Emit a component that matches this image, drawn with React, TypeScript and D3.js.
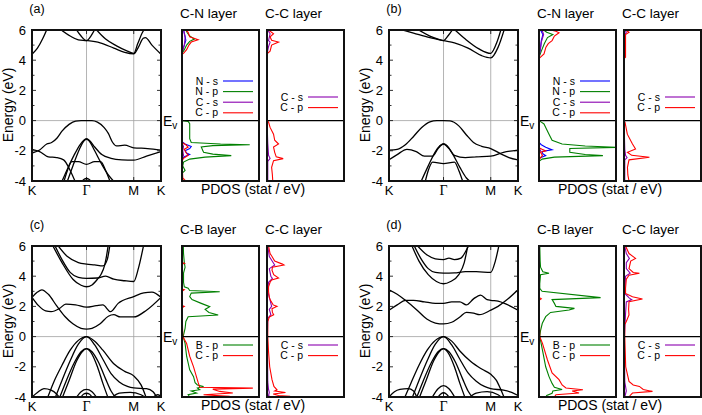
import * as d3 from "d3";

// k-path: K - Γ - M - K (hexagonal, |ΓK| = 1)
const KMAX = 2.366;
const kTicks = [0, 1, 1.866, 2.366];
const kLabels = ["K", "Γ", "M", "K"];
const eTickLabels = [-4, -2, 0, 2, 4, 6];

const NS = "#0000ff";
const NP = "#008000";
const CS = "#8a00b0";
const CP = "#ff0000";

// ---- band structures [k, E] ----
const bandsA = [
  [[0, -2.15], [0.14, -1.95], [0.27, -1.55], [0.36, -1.45], [0.46, -1.15], [0.55, -0.7], [0.68, -0.25], [0.8, -0.03], [0.9, 0], [1, 0], [1.1, 0], [1.2, -0.1], [1.32, -0.45], [1.4, -0.85], [1.48, -1.45], [1.55, -1.68], [1.7, -1.63], [1.866, -1.8], [2.12, -1.85], [2.366, -1.95]],
  [[0, -1.9], [0.14, -2.05], [0.3, -2.4], [0.45, -2.45], [0.58, -2.6], [0.7, -3.3], [0.8, -4.1]],
  [[0.54, -4.1], [0.65, -3.2], [0.77, -2.3], [0.88, -1.6], [0.95, -1.3], [1, -1.22], [1.05, -1.3], [1.15, -1.75], [1.28, -2.25], [1.45, -2.5], [1.65, -2.6], [1.866, -2.62], [2.1, -2.35], [2.366, -2.05]],
  [[0.64, -4.1], [0.75, -3.0], [0.87, -1.9], [0.95, -1.35], [1, -1.22], [1.05, -1.35], [1.15, -2.0], [1.28, -2.9], [1.4, -3.6], [1.52, -4.1]],
  [[0.58, -4.1], [0.65, -3.3], [0.73, -2.72], [0.85, -2.72], [1, -2.9], [1.15, -2.72], [1.26, -2.72], [1.35, -3.3], [1.44, -4.1]],
  [[0.9, -4.1], [0.95, -3.9], [1, -3.82], [1.05, -3.9], [1.1, -4.1]],
  [[0.94, -4.1], [1, -3.93], [1.06, -4.1]],
  [[0, 4.4], [0.1, 4.8], [0.2, 5.45], [0.28, 6.1]],
  [[0.5, 6.1], [0.7, 5.6], [0.85, 5.35], [1, 5.3], [1.25, 5.15], [1.5, 4.8], [1.7, 4.52], [1.866, 4.42], [1.95, 4.85], [2.04, 5.45], [2.08, 5.5], [2.2, 5.0], [2.366, 4.4]],
  [[0.8, 6.1], [0.9, 5.6], [1, 5.3], [1.08, 5.6], [1.16, 6.1]],
  [[1.16, 6.1], [1.35, 5.4], [1.55, 4.95], [1.75, 4.6], [1.866, 4.45], [1.94, 5.1], [2.02, 5.8], [2.07, 6.1]],
];

const bandsB = [
  [[0, -1.95], [0.15, -1.9], [0.3, -1.6], [0.45, -1.05], [0.6, -0.45], [0.75, -0.08], [0.88, 0], [1, 0], [1.12, -0.02], [1.28, -0.35], [1.42, -0.95], [1.55, -1.45], [1.7, -1.7], [1.866, -1.85], [2.05, -2.2], [2.2, -2.45], [2.366, -2.6]],
  [[0, -2.6], [0.15, -2.25], [0.33, -1.9], [0.5, -2.05], [0.65, -2.35], [0.8, -2.35], [0.9, -1.85], [1, -1.55], [1.1, -1.85], [1.2, -2.3], [1.4, -2.45], [1.6, -2.4], [1.866, -2.35], [2.1, -2.1], [2.366, -1.95]],
  [[0.58, -4.1], [0.72, -3.0], [0.86, -2.0], [0.95, -1.62], [1, -1.55], [1.05, -1.62], [1.15, -2.1], [1.3, -3.1], [1.42, -3.8], [1.52, -4.1]],
  [[0.66, -4.1], [0.72, -3.3], [0.8, -2.75], [1, -2.85], [1.2, -2.75], [1.28, -3.3], [1.36, -4.1]],
  [[0.96, -4.1], [1, -3.97], [1.04, -4.1]],
  [[0.15, 6.1], [0.45, 5.8], [0.75, 5.5], [1, 5.3], [1.2, 5.15], [1.45, 4.8], [1.7, 4.3], [1.866, 4.15], [2.0, 4.85], [2.12, 6.1]],
  [[0.5, 6.1], [0.75, 5.6], [0.9, 5.4], [1, 5.3], [1.08, 5.6], [1.18, 6.1]],
  [[1.18, 6.1], [1.4, 5.4], [1.65, 4.75], [1.866, 4.45], [1.98, 5.2], [2.06, 6.1]],
];

const bandsC = [
  [[0, 2.6], [0.1, 2.95], [0.18, 3.1], [0.3, 2.8], [0.45, 2.05], [0.6, 1.35], [0.75, 0.85], [0.9, 0.55], [1, 0.5], [1.1, 0.55], [1.25, 0.85], [1.4, 1.35], [1.5, 1.45], [1.62, 1.3], [1.866, 1.3], [2.1, 1.75], [2.366, 2.6]],
  [[0, 2.6], [0.12, 2.05], [0.25, 1.7], [0.35, 1.65], [0.5, 1.85], [0.62, 2.15], [0.8, 2.1], [1, 1.95], [1.18, 2.05], [1.3, 2.1], [1.44, 1.65], [1.58, 2.2], [1.866, 2.65], [2.05, 2.9], [2.2, 2.95], [2.366, 2.6]],
  [[0.37, 6.1], [0.55, 4.9], [0.75, 3.8], [0.9, 3.4], [1, 3.3], [1.1, 3.42], [1.2, 3.8], [1.27, 4.15], [1.33, 4.7], [1.36, 5.2], [1.4, 6.1]],
  [[0.41, 6.1], [0.55, 5.1], [0.7, 4.25], [0.85, 3.92], [1, 3.85], [1.2, 3.88], [1.35, 4.0], [1.5, 3.8], [1.7, 3.7], [1.866, 3.65], [1.95, 4.5], [2.05, 6.1]],
  [[0.46, 6.1], [0.65, 5.3], [0.85, 4.9], [1, 4.8], [1.15, 4.75], [1.3, 4.68], [1.38, 5.1], [1.43, 6.1]],
  [[0.28, -4.1], [0.4, -3.0], [0.55, -1.9], [0.7, -0.9], [0.85, -0.25], [1, 0], [1.15, -0.3], [1.3, -0.9], [1.5, -1.8], [1.7, -2.3], [1.866, -2.6], [2.0, -3.2], [2.1, -4.1]],
  [[0.42, -4.1], [0.55, -2.9], [0.7, -1.6], [0.85, -0.5], [1, 0], [1.15, -0.55], [1.3, -1.5], [1.45, -2.45], [1.6, -3.0], [1.75, -3.3], [1.866, -3.4], [2.1, -3.45], [2.22, -3.65], [2.3, -4.1]],
  [[0.5, -4.1], [0.62, -3.0], [0.78, -1.7], [0.9, -1.0], [1, -0.8], [1.1, -1.0], [1.22, -1.7], [1.35, -2.8], [1.45, -3.6], [1.55, -4.1]],
  [[0.55, -4.1], [0.68, -2.9], [0.82, -1.6], [0.92, -1.0], [1, -0.8], [1.08, -1.05], [1.2, -2.0], [1.3, -3.1], [1.4, -4.1]],
  [[0, -4.0], [0.1, -3.7], [0.22, -3.45], [0.35, -3.55], [0.45, -3.8], [0.52, -4.1]],
  [[0.8, -4.1], [0.9, -3.65], [1, -3.5], [1.1, -3.65], [1.2, -4.1]],
  [[0.88, -4.1], [0.95, -3.8], [1, -3.75], [1.05, -3.8], [1.12, -4.1]],
  [[1.45, -4.1], [1.6, -3.75], [1.8, -3.7], [2.0, -3.85], [2.1, -4.1]],
  [[2.2, -4.1], [2.3, -3.85], [2.366, -3.95]],
];

const bandsD = [
  [[0, 3.1], [0.15, 2.8], [0.3, 2.4], [0.5, 1.8], [0.7, 1.15], [0.85, 0.9], [1, 0.84], [1.15, 0.95], [1.3, 1.3], [1.42, 1.6], [1.55, 1.55], [1.66, 1.45], [1.866, 1.75], [2.0, 2.0], [2.15, 2.4], [2.366, 3.1]],
  [[0, 1.75], [0.15, 2.1], [0.3, 2.4], [0.45, 2.4], [0.65, 2.3], [0.85, 2.2], [1, 2.2], [1.15, 2.3], [1.3, 2.3], [1.42, 2.1], [1.55, 2.5], [1.68, 2.75], [1.8, 2.45], [1.866, 2.4], [2.0, 2.35], [2.15, 2.15], [2.366, 1.75]],
  [[0.41, 6.1], [0.55, 5.0], [0.72, 4.1], [0.87, 3.65], [1, 3.5], [1.13, 3.65], [1.28, 4.1], [1.38, 4.9], [1.45, 6.1]],
  [[0.45, 6.1], [0.58, 5.2], [0.72, 4.5], [0.85, 4.25], [1, 4.2], [1.2, 4.22], [1.4, 4.3], [1.6, 4.3], [1.866, 4.25], [1.95, 5.0], [2.02, 6.1]],
  [[0.5, 6.1], [0.7, 5.4], [0.85, 5.15], [1, 5.1], [1.1, 5.2], [1.2, 5.1], [1.32, 5.2], [1.4, 5.6], [1.47, 6.1]],
  [[0.28, -4.1], [0.4, -3.1], [0.55, -1.9], [0.7, -0.9], [0.85, -0.25], [1, 0], [1.15, -0.3], [1.3, -0.95], [1.5, -1.65], [1.7, -2.15], [1.866, -2.5], [1.97, -2.9], [2.05, -3.5], [2.12, -4.1]],
  [[0.42, -4.1], [0.55, -2.9], [0.7, -1.6], [0.85, -0.5], [1, 0], [1.15, -0.55], [1.3, -1.5], [1.45, -2.4], [1.6, -2.95], [1.75, -3.3], [1.866, -3.45], [2.1, -3.55], [2.25, -3.7], [2.366, -3.9]],
  [[0.5, -4.1], [0.62, -3.0], [0.78, -1.7], [0.9, -1.0], [1, -0.8], [1.1, -1.0], [1.22, -1.7], [1.35, -2.8], [1.45, -3.6], [1.55, -4.1]],
  [[0.55, -4.1], [0.68, -2.9], [0.82, -1.6], [0.92, -1.0], [1, -0.8], [1.08, -1.05], [1.2, -2.0], [1.3, -3.1], [1.4, -4.1]],
  [[0, -4.0], [0.1, -3.65], [0.2, -3.5], [0.35, -3.45], [0.45, -3.6], [0.52, -4.1]],
  [[0.78, -4.1], [0.9, -3.45], [1, -3.25], [1.1, -3.45], [1.22, -4.1]],
  [[0.88, -4.1], [0.95, -3.8], [1, -3.72], [1.05, -3.8], [1.12, -4.1]],
  [[1.45, -4.1], [1.6, -3.75], [1.8, -3.65], [2.0, -3.85], [2.1, -4.1]],
];

// ---- PDOS [E, states/eV] ----
const aCN_Ns = [[6, 0.02], [5.6, 0.04], [5.3, 0.05], [5.0, 0.03], [4.5, 0], [-1.4, 0], [-1.55, 0.04], [-1.72, 0.12], [-1.85, 0.1], [-1.99, 0.04], [-2.15, 0.06], [-2.25, 0.1], [-2.4, 0.03], [-2.55, 0], [-4, 0]];
const aCN_Np = [[6, 0.05], [5.8, 0.07], [5.6, 0.1], [5.4, 0.16], [5.25, 0.1], [5.0, 0.06], [4.7, 0.03], [4.45, 0], [0, 0], [-0.05, 0.08], [-0.2, 0.1], [-1.2, 0.1], [-1.45, 0.12], [-1.55, 0.5], [-1.6, 0.88], [-1.66, 0.4], [-1.75, 0.25], [-2.1, 0.28], [-2.22, 0.4], [-2.32, 0.64], [-2.42, 0.3], [-2.55, 0.1], [-2.75, 0.02], [-3.0, 0.01], [-3.3, 0.04], [-3.5, 0], [-3.9, 0], [-4, 0.03]];
const aCN_Cs = [[6, 0.02], [5.5, 0.04], [5.0, 0.03], [4.5, 0], [-1.5, 0], [-1.7, 0.02], [-2.0, 0.01], [-2.3, 0.02], [-2.5, 0], [-4, 0]];
const aCN_Cp = [[6, 0.05], [5.85, 0.08], [5.55, 0.1], [5.35, 0.21], [5.2, 0.12], [5.0, 0.09], [4.7, 0.06], [4.45, 0.02], [4.4, 0], [-1.45, 0], [-1.6, 0.05], [-1.75, 0.08], [-1.9, 0.03], [-2.1, 0.05], [-2.3, 0.08], [-2.5, 0.02], [-2.7, 0], [-3.8, 0.01], [-3.95, 0.04], [-4, 0.02]];
const aCC_Cs = [[6, 0.01], [5.75, 0.04], [5.3, 0.02], [5.2, 0.04], [4.9, 0.02], [4.42, 0], [0, 0], [-1.5, 0.01], [-2.3, 0.02], [-2.5, 0.04], [-2.7, 0.01], [-4, 0.01]];
const aCC_Cp = [[6, 0.02], [5.75, 0.085], [5.55, 0.04], [5.32, 0.06], [5.2, 0.15], [5.0, 0.06], [4.6, 0.04], [4.42, 0], [0, 0], [-0.1, 0.02], [-0.45, 0.04], [-0.9, 0.085], [-1.3, 0.1], [-1.55, 0.15], [-1.75, 0.085], [-2.1, 0.1], [-2.4, 0.12], [-2.52, 0.21], [-2.65, 0.085], [-3.1, 0.06], [-3.6, 0.07], [-4, 0.075]];

const bCN_Ns = [[6, 0.02], [5.7, 0.05], [5.3, 0.03], [4.8, 0.02], [4.2, 0], [-1.45, 0], [-1.6, 0.03], [-1.77, 0.087], [-1.94, 0.17], [-2.05, 0.04], [-2.2, 0.05], [-2.32, 0.087], [-2.5, 0], [-4, 0]];
const bCN_Np = [[6, 0.06], [5.85, 0.1], [5.7, 0.18], [5.5, 0.11], [5.1, 0.07], [4.6, 0.03], [4.2, 0], [0, 0], [-0.1, 0.03], [-0.22, 0.065], [-0.45, 0.087], [-0.9, 0.13], [-1.3, 0.17], [-1.55, 0.3], [-1.68, 0.6], [-1.77, 1.05], [-1.85, 0.4], [-2.1, 0.4], [-2.25, 0.6], [-2.32, 0.83], [-2.42, 0.2], [-2.55, 0.04], [-2.7, 0], [-4, 0]];
const bCN_Cs = [[6, 0.04], [5.7, 0.06], [5.2, 0.03], [4.5, 0.01], [4.2, 0], [-1.8, 0], [-2.0, 0.02], [-2.2, 0], [-4, 0]];
const bCN_Cp = [[6, 0.15], [5.92, 0.22], [5.82, 0.26], [5.6, 0.2], [5.3, 0.17], [5.1, 0.12], [4.86, 0.09], [4.42, 0.065], [4.2, 0.02], [4.1, 0], [-1.8, 0], [-1.9, 0.04], [-2.0, 0.087], [-2.1, 0.02], [-2.3, 0.045], [-2.45, 0.02], [-2.6, 0], [-4, 0]];
const bCC_Cs = [[6, 0.01], [5.85, 0.03], [5.7, 0.01], [4.1, 0], [0, 0], [-1.9, 0.01], [-2.3, 0.02], [-2.45, 0.04], [-2.6, 0.01], [-4, 0.01]];
const bCC_Cp = [[6, 0.02], [5.85, 0.065], [5.7, 0.02], [4.2, 0.02], [4.1, 0], [0, 0], [-0.1, 0.013], [-0.9, 0.043], [-1.55, 0.11], [-1.88, 0.15], [-2.1, 0.045], [-2.3, 0.1], [-2.43, 0.33], [-2.6, 0.065], [-3.1, 0.045], [-3.6, 0.05], [-4, 0.065]];

const cCB_Bp = [[6, 0.017], [5.5, 0.02], [4.9, 0.03], [4.6, 0.04], [4.2, 0.02], [3.6, 0.02], [3.3, 0.03], [3.2, 0.08], [3.05, 0.1], [2.97, 0.49], [2.88, 0.12], [2.65, 0.1], [2.45, 0.13], [2.2, 0.25], [1.98, 0.36], [1.8, 0.3], [1.6, 0.35], [1.43, 0.47], [1.32, 0.08], [1.0, 0.05], [0.55, 0.04], [0, 0.015], [-0.45, 0.04], [-1.3, 0.06], [-2.2, 0.1], [-2.65, 0.15], [-3.05, 0.17], [-3.2, 0.2], [-3.3, 0.28], [-3.4, 0.2], [-3.52, 0.23], [-3.6, 0.12], [-3.74, 0.19], [-3.85, 0.08], [-4, 0.1]];
const cCB_Cp = [[6, 0], [4.9, 0], [4.85, 0.03], [4.8, 0], [3.15, 0], [3.1, 0.03], [3.0, 0], [2.05, 0], [2.0, 0.03], [1.9, 0], [0, 0.01], [-0.45, 0.06], [-1.3, 0.1], [-2.0, 0.15], [-3.05, 0.21], [-3.35, 0.23], [-3.41, 0.92], [-3.48, 0.4], [-3.63, 0.49], [-3.74, 0.66], [-3.85, 0.28], [-3.96, 0.62], [-4, 0.3]];
const cCC_Cs = [[6, 0.01], [5.3, 0.03], [4.74, 0.1], [4.5, 0.03], [4.0, 0.05], [3.85, 0.07], [3.6, 0.02], [3.0, 0.01], [2.0, 0.06], [1.8, 0.03], [1.45, 0.05], [1.2, 0.01], [0, 0.005], [-3, 0.01], [-3.5, 0.02], [-3.7, 0.03], [-3.9, 0.02], [-4, 0.04]];
const cCC_Cp = [[6, 0.02], [5.5, 0.04], [5.3, 0.065], [5.0, 0.1], [4.8, 0.2], [4.74, 0.22], [4.6, 0.07], [4.4, 0.065], [4.1, 0.087], [3.88, 0.15], [3.75, 0.06], [3.6, 0.04], [3.3, 0.02], [3.0, 0.02], [2.6, 0.03], [2.4, 0.045], [2.1, 0.08], [2.0, 0.13], [1.85, 0.065], [1.6, 0.07], [1.45, 0.087], [1.3, 0.03], [1.0, 0.01], [0, 0.01], [-1.0, 0.02], [-2.0, 0.035], [-2.85, 0.065], [-3.3, 0.09], [-3.52, 0.13], [-3.6, 0.1], [-3.7, 0.24], [-3.8, 0.08], [-3.9, 0.15], [-3.96, 0.3], [-4, 0.2]];

const dCB_Bp = [[6, 0.01], [5.0, 0.015], [4.6, 0.02], [4.3, 0.05], [4.2, 0.13], [4.1, 0.02], [3.5, 0.01], [3.2, 0.01], [3.0, 0.04], [2.58, 0.8], [2.45, 0.17], [2.2, 0.2], [2.0, 0.22], [1.87, 0.46], [1.76, 0.39], [1.6, 0.15], [1.32, 0.087], [0.88, 0.043], [0.4, 0.02], [0, 0.01], [-0.9, 0.045], [-2.0, 0.087], [-2.65, 0.13], [-3.1, 0.17], [-3.35, 0.2], [-3.5, 0.3], [-3.6, 0.18], [-3.75, 0.17], [-3.9, 0.1], [-4, 0.09]];
const dCB_Cp = [[6, 0], [2.6, 0], [2.5, 0.03], [2.4, 0], [0, 0.01], [-0.45, 0.045], [-1.55, 0.11], [-2.4, 0.17], [-2.85, 0.26], [-3.2, 0.3], [-3.4, 0.35], [-3.52, 0.57], [-3.6, 0.43], [-3.74, 0.52], [-3.85, 0.22], [-4, 0.2]];
const dCC_Cs = [[6, 0.01], [5.5, 0.03], [5.18, 0.07], [4.9, 0.03], [4.5, 0.03], [4.2, 0.08], [4.0, 0.02], [2.86, 0.01], [2.55, 0.07], [2.45, 0.1], [2.3, 0.03], [1.5, 0.02], [0, 0.005], [-3, 0.01], [-3.6, 0.03], [-4, 0.01]];
const dCC_Cp = [[6, 0.02], [5.5, 0.065], [5.18, 0.15], [5.0, 0.087], [4.5, 0.065], [4.25, 0.12], [4.19, 0.2], [4.07, 0.065], [3.8, 0.03], [3.2, 0.02], [2.86, 0.02], [2.64, 0.11], [2.49, 0.24], [2.31, 0.065], [1.8, 0.06], [1.43, 0.065], [1.0, 0.03], [0.8, 0.01], [0, 0.01], [-2.0, 0.022], [-2.97, 0.065], [-3.2, 0.12], [-3.3, 0.2], [-3.5, 0.25], [-3.63, 0.37], [-3.74, 0.11], [-3.9, 0.08], [-4, 0.065]];

// ---- layout ----
const W = 702;
const H = 415;
const ROWS = [30, 246];
const COLS = [0, 357];
const PANEL_H = 151;
const BAND_X = [32, 161];
const PDOS_X = [[182, 259], [267, 344]];
const FONT = "'Liberation Sans', Arial, sans-serif";

const panels = [
  {
    tag: "(a)", col: 0, row: 0, bands: bandsA,
    left: { title: "C-N layer", legendY: 51, curves: [["N - s", NS, aCN_Ns], ["N - p", NP, aCN_Np], ["C - s", CS, aCN_Cs], ["C - p", CP, aCN_Cp]] },
    right: { title: "C-C layer", legendY: 67, curves: [["C - s", CS, aCC_Cs], ["C - p", CP, aCC_Cp]] },
  },
  {
    tag: "(b)", col: 1, row: 0, bands: bandsB,
    left: { title: "C-N layer", legendY: 51, curves: [["N - s", NS, bCN_Ns], ["N - p", NP, bCN_Np], ["C - s", CS, bCN_Cs], ["C - p", CP, bCN_Cp]] },
    right: { title: "C-C layer", legendY: 67, curves: [["C - s", CS, bCC_Cs], ["C - p", CP, bCC_Cp]] },
  },
  {
    tag: "(c)", col: 0, row: 1, bands: bandsC,
    left: { title: "C-B layer", legendY: 99, curves: [["B - p", NP, cCB_Bp], ["C - p", CP, cCB_Cp]] },
    right: { title: "C-C layer", legendY: 99, curves: [["C - s", CS, cCC_Cs], ["C - p", CP, cCC_Cp]] },
  },
  {
    tag: "(d)", col: 1, row: 1, bands: bandsD,
    left: { title: "C-B layer", legendY: 99, curves: [["B - p", NP, dCB_Bp], ["C - p", CP, dCB_Cp]] },
    right: { title: "C-C layer", legendY: 99, curves: [["C - s", CS, dCC_Cs], ["C - p", CP, dCC_Cp]] },
  },
];

function BandPlot({ ox, oy, bands, tag, id }) {
  const x = d3.scaleLinear().domain([0, KMAX]).range([ox + BAND_X[0], ox + BAND_X[1]]);
  const y = d3.scaleLinear().domain([-4, 6]).range([oy + PANEL_H, oy]);
  const line = d3.line<number[]>().x((d) => x(d[0])).y((d) => y(d[1])).curve(d3.curveMonotoneX);
  const ticks = d3.range(-4, 7, 1);

  return (
    <g>
      <clipPath id={id}>
        <rect x={x(0)} y={y(6)} width={x(KMAX) - x(0)} height={y(-4) - y(6)} />
      </clipPath>
      {[1, 1.866].map((k) => (
        <line key={k} x1={x(k)} x2={x(k)} y1={y(6)} y2={y(-4)} stroke="#a0a0a0" strokeWidth={0.8} />
      ))}
      <line x1={x(0)} x2={x(KMAX)} y1={y(0)} y2={y(0)} stroke="#a0a0a0" strokeWidth={0.8} />
      <g clipPath={`url(#${id})`}>
        {bands.map((b, i) => (
          <path key={i} d={line(b) || ""} fill="none" stroke="#000" strokeWidth={1.3} />
        ))}
      </g>
      {ticks.map((t) => {
        const len = t % 2 === 0 ? 4 : 2.5;
        return (
          <g key={t}>
            <line x1={x(0)} x2={x(0) + len} y1={y(t)} y2={y(t)} stroke="#000" strokeWidth={0.8} />
            <line x1={x(KMAX)} x2={x(KMAX) - len} y1={y(t)} y2={y(t)} stroke="#000" strokeWidth={0.8} />
          </g>
        );
      })}
      {kTicks.map((k, i) => (
        <g key={i}>
          <line x1={x(k)} x2={x(k)} y1={y(-4)} y2={y(-4) - 4} stroke="#000" strokeWidth={0.8} />
          <line x1={x(k)} x2={x(k)} y1={y(6)} y2={y(6) + 4} stroke="#000" strokeWidth={0.8} />
        </g>
      ))}
      <rect x={x(0)} y={y(6)} width={x(KMAX) - x(0)} height={y(-4) - y(6)} fill="none" stroke="#111" strokeWidth={2} />
      {eTickLabels.map((t) => (
        <text key={t} x={x(0) - 6} y={y(t)} dy="0.36em" textAnchor="end" fontSize={13} fontFamily={FONT}>
          {t}
        </text>
      ))}
      {kLabels.map((lab, i) => (
        <text
          key={i}
          x={x(kTicks[i])}
          y={y(-4) + 14}
          textAnchor="middle"
          fontSize={lab === "Γ" ? 14 : 13}
          fontFamily={lab === "Γ" ? "'Liberation Serif', serif" : FONT}
        >
          {lab}
        </text>
      ))}
      <text
        transform={`translate(${ox + 12.5},${oy + 75}) rotate(-90)`}
        textAnchor="middle"
        fontSize={14}
        fontFamily={FONT}
      >
        Energy (eV)
      </text>
      <text x={ox + 37} y={oy - 17} textAnchor="middle" fontSize={12.5} fontFamily={FONT}>
        {tag}
      </text>
      <text x={x(KMAX) + 2} y={y(0) + 5} fontSize={14} fontFamily={FONT}>
        E
        <tspan dy={3} fontSize={10}>
          v
        </tspan>
      </text>
    </g>
  );
}

function PdosPlot({ x0, x1, oy, title, curves, legendY, id }) {
  const x = d3.scaleLinear().domain([0, 1]).range([x0, x1]);
  const y = d3.scaleLinear().domain([-4, 6]).range([oy + PANEL_H, oy]);
  const line = d3.line<number[]>().x((d) => x(d[1])).y((d) => y(d[0]));

  return (
    <g>
      <clipPath id={id}>
        <rect x={x0} y={y(6)} width={x1 - x0} height={y(-4) - y(6)} />
      </clipPath>
      <g clipPath={`url(#${id})`}>
        {curves.map(([name, color, data]) => (
          <path key={name} d={line(data) || ""} fill="none" stroke={color} strokeWidth={1.1} />
        ))}
      </g>
      <line x1={x0} x2={x1} y1={y(0)} y2={y(0)} stroke="#000" strokeWidth={1.3} />
      <rect x={x0} y={y(6)} width={x1 - x0} height={y(-4) - y(6)} fill="none" stroke="#111" strokeWidth={2} />
      <text x={x0 - 2} y={oy - 12} fontSize={13.5} fontFamily={FONT}>
        {title}
      </text>
      {curves.map(([name, color], i) => {
        const ly = oy + legendY + i * 10.6;
        return (
          <g key={name}>
            <text x={x0 + 36} y={ly} dy="0.35em" textAnchor="end" fontSize={10.5} fontFamily={FONT}>
              {name}
            </text>
            <line x1={x0 + 41} x2={x0 + 71} y1={ly} y2={ly} stroke={color} strokeWidth={1.1} />
          </g>
        );
      })}
    </g>
  );
}

export default function App() {
  return (
    <svg
      width={W}
      height={H}
      viewBox={`0 0 ${W} ${H}`}
      style={{ position: "absolute", left: 0, top: 0, background: "#fff" }}
    >
      {panels.map((p, i) => {
        const ox = COLS[p.col];
        const oy = ROWS[p.row];
        return (
          <g key={p.tag}>
            <BandPlot ox={ox} oy={oy} bands={p.bands} tag={p.tag} id={`band-${i}`} />
            <PdosPlot
              x0={ox + PDOS_X[0][0]}
              x1={ox + PDOS_X[0][1]}
              oy={oy}
              title={p.left.title}
              curves={p.left.curves}
              legendY={p.left.legendY}
              id={`pdosL-${i}`}
            />
            <PdosPlot
              x0={ox + PDOS_X[1][0]}
              x1={ox + PDOS_X[1][1]}
              oy={oy}
              title={p.right.title}
              curves={p.right.curves}
              legendY={p.right.legendY}
              id={`pdosR-${i}`}
            />
            <text x={ox + 253} y={oy + 164} textAnchor="middle" fontSize={14} fontFamily={FONT}>
              PDOS (stat / eV)
            </text>
          </g>
        );
      })}
    </svg>
  );
}
